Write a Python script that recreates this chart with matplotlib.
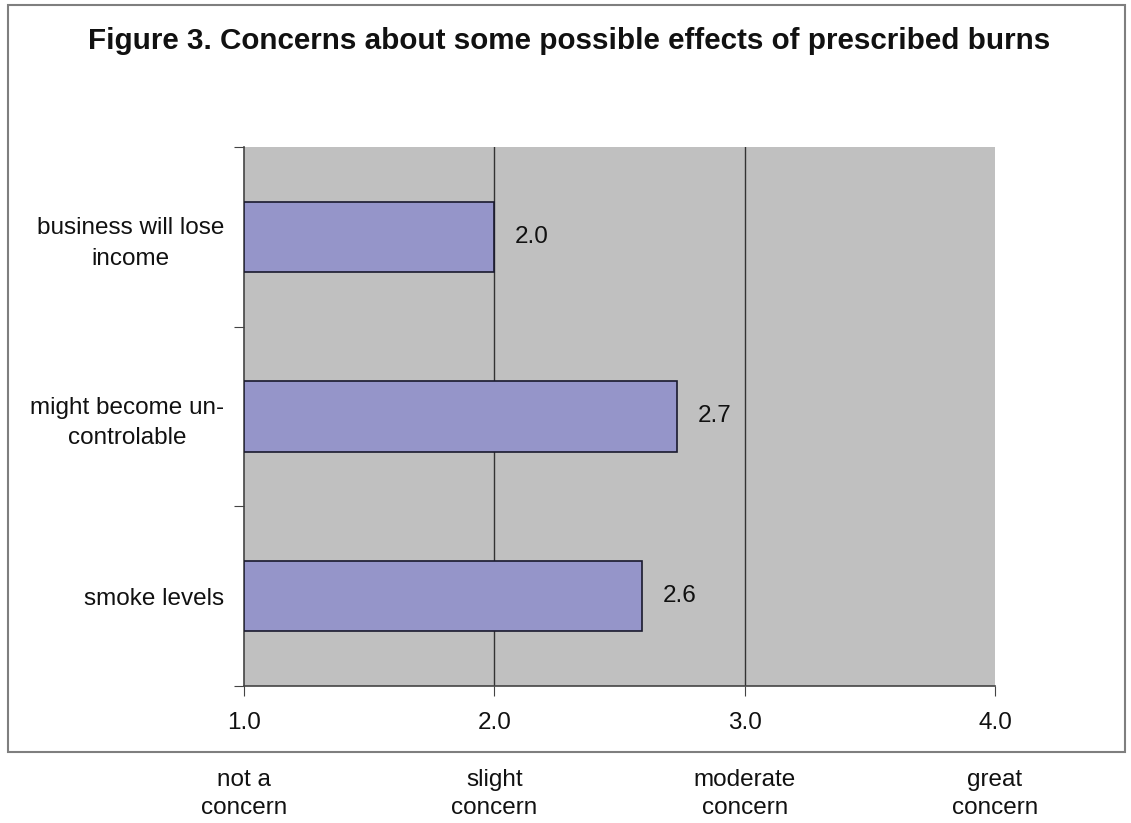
import matplotlib
matplotlib.use("Agg")
import matplotlib.pyplot as plt
import matplotlib.transforms as mtransforms
from matplotlib.patches import Rectangle

plt.rcParams['font.family'] = ['Liberation Sans', 'DejaVu Sans']

# data (bottom to top)
categories = ["smoke levels", "might become un-\ncontrolable", "business will lose\nincome"]
values = [2.59, 2.73, 2.0]
value_labels = ["2.6", "2.7", "2.0"]
x_ticks = [1.0, 2.0, 3.0, 4.0]
scale_labels = ["not a\nconcern", "slight\nconcern", "moderate\nconcern", "great\nconcern"]

W, H = 1131, 823
fig = plt.figure(figsize=(W / 100, H / 100), dpi=100)
ax = fig.add_axes([244 / W, 1 - 686 / H, (995 - 244) / W, (686 - 147) / H])

# outer frame
fig.patches.append(Rectangle((8 / W, 1 - 752 / H), (1125 - 8) / W, (752 - 5) / H,
                             transform=fig.transFigure, fill=False,
                             edgecolor='#7f7f7f', linewidth=1.5))

fig.text(569 / W, 1 - 41 / H, "Figure 3. Concerns about some possible effects of prescribed burns",
         ha='center', va='center', fontsize=21.3, fontweight='bold', color='#111111')

ax.set_facecolor('#C0C0C0')
ypos = list(range(len(categories)))
ax.barh(ypos, [v - 1 for v in values], left=1, height=0.39,
        color='#9595C9', edgecolor='#1a1a2e', linewidth=1.2, zorder=3)

for y, v, lab in zip(ypos, values, value_labels):
    ax.annotate(lab, (v, y), xytext=(15, 0), textcoords='offset points',
                ha='left', va='center', fontsize=17.5, color='#111111')

ax.set_xlim(1, 4)
ax.set_ylim(-0.5, len(categories) - 0.5)
ax.set_xticks(x_ticks)
ax.set_xticklabels(["%.1f" % t for t in x_ticks], fontsize=17.5, color='#111111')
for t in [2.0, 3.0]:
    ax.axvline(t, color='#333333', linewidth=1.0, zorder=2)

ax.set_yticks([y + 0.5 for y in [-1] + ypos])
ax.set_yticklabels([])
ax.set_yticks(ypos, minor=True)
ax.set_yticklabels(categories, minor=True, fontsize=17.5, multialignment='center',
                   linespacing=1.5, color='#111111')
ax.tick_params(axis='y', which='minor', length=0, pad=14)
ax.tick_params(axis='y', which='major', length=7, color='#444444', direction='out')
ax.tick_params(axis='x', length=7, color='#444444', direction='out', pad=12)

for s in ['top', 'right']:
    ax.spines[s].set_visible(False)
for s in ['left', 'bottom']:
    ax.spines[s].set_color('#444444')
    ax.spines[s].set_linewidth(1.2)

trans = mtransforms.blended_transform_factory(ax.transData, fig.transFigure)
for t, lab in zip(x_ticks, scale_labels):
    fig.text(t, 1 - 794 / H, lab, transform=trans, ha='center', va='center',
             fontsize=17.5, linespacing=1.3, color='#111111')

fig.savefig("out.png", dpi=100)
